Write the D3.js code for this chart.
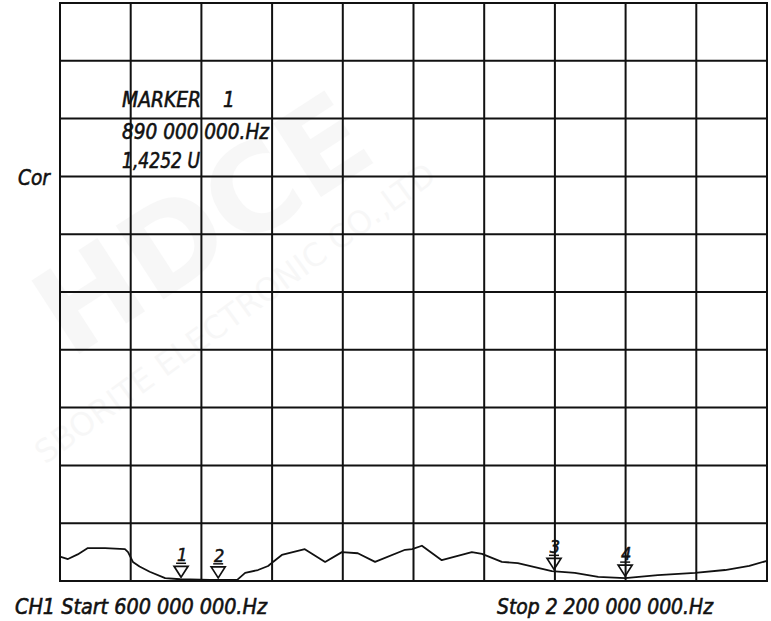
<!DOCTYPE html>
<html>
<head>
<meta charset="utf-8">
<script src="https://cdn.jsdelivr.net/npm/d3@7/dist/d3.min.js"></script>
<style>
  html, body { margin: 0; padding: 0; background: #fff; }
  svg { display: block; }
  .lbl { font-family: "DejaVu Sans Condensed", "DejaVu Sans", sans-serif; font-style: italic; fill: #111; stroke: #111; stroke-width: 0.55; }
</style>
</head>
<body>
<svg id="chart" width="771" height="621"></svg>
<script>
// ---- data ----
const freqStart = 600e6;
const freqStop = 2200e6;
const divisions = 10;            // grid divisions each way
// trace: frequency (MHz) and value (in grid divisions above bottom)
const traceFreqMHz = [600, 618, 640, 663, 702, 747, 754, 765, 780, 803, 838, 872, 940, 1001, 1019, 1048, 1071, 1082, 1102, 1154, 1200, 1238, 1274, 1313, 1381, 1397, 1419, 1464, 1532, 1555, 1600, 1636, 1713, 1765, 1818, 1879, 1953, 2037, 2105, 2160, 2200];
const traceValue   = [0.42, 0.38, 0.46, 0.57, 0.57, 0.55, 0.50, 0.33, 0.25, 0.16, 0.05, 0.03, 0.02, 0.02, 0.14, 0.19, 0.26, 0.33, 0.45, 0.55, 0.33, 0.50, 0.48, 0.33, 0.54, 0.55, 0.61, 0.36, 0.50, 0.47, 0.33, 0.31, 0.17, 0.14, 0.07, 0.05, 0.10, 0.14, 0.19, 0.26, 0.35];
const markerIds = ["1", "2", "3", "4"];
const markerFreqMHz = [874, 958, 1718, 1879];
const markerTitle = ["MARKER", "1"];
const markerFreqText = "890 000 000.Hz";
const markerValueText = "1,4252 U";
const yLabel = "Cor";
const startLabel = "CH1 Start  600 000 000.Hz";
const stopLabel = "Stop 2 200 000 000.Hz";

// ---- layout ----
const svg = d3.select("#chart");
const padL = 60, padR = 767, padT = 3, padB = 581;
const x = d3.scaleLinear().domain([freqStart / 1e6, freqStop / 1e6]).range([padL, padR]);
const y = d3.scaleLinear().domain([0, divisions]).range([padB, padT]);

// watermark (faint)
const wm = svg.append("g").attr("fill", "#000").attr("opacity", 0.028)
  .attr("font-family", "DejaVu Sans, sans-serif").attr("font-weight", "bold");
wm.append("text").attr("transform", "translate(70,360) rotate(-33)")
  .attr("font-size", 120).text("HDCE");
wm.append("text").attr("transform", "translate(45,465) rotate(-36)")
  .attr("font-size", 32).attr("font-weight", "normal").text("SBORITE ELECTRONIC CO.,LTD");

// grid
const gx = d3.range(0, divisions + 1).map(i => x.domain()[0] + i * (x.domain()[1] - x.domain()[0]) / divisions);
const gy = d3.range(0, divisions + 1);
const grid = svg.append("g").attr("stroke", "#111").attr("stroke-width", 2);
grid.selectAll("line.v").data(gx).join("line").attr("class", "v")
  .attr("x1", d => x(d)).attr("x2", d => x(d)).attr("y1", y(0)).attr("y2", y(divisions));
grid.selectAll("line.h").data(gy).join("line").attr("class", "h")
  .attr("y1", d => y(d)).attr("y2", d => y(d)).attr("x1", x.range()[0] - 1).attr("x2", x.range()[1] + 1);

// trace
const pts = traceFreqMHz.map((f, i) => [f, traceValue[i]]);
const line = d3.line().x(d => x(d[0])).y(d => y(d[1])).curve(d3.curveLinear);
svg.append("path").datum(pts).attr("d", line)
  .attr("fill", "none").attr("stroke", "#111").attr("stroke-width", 1.8).attr("stroke-linejoin", "round");

// markers
const interp = f => {
  const i = d3.bisectRight(traceFreqMHz, f);
  const i0 = Math.max(0, i - 1), i1 = Math.min(traceFreqMHz.length - 1, i);
  if (i0 === i1) return traceValue[i0];
  const t = (f - traceFreqMHz[i0]) / (traceFreqMHz[i1] - traceFreqMHz[i0]);
  return traceValue[i0] + t * (traceValue[i1] - traceValue[i0]);
};
const mk = svg.append("g");
markerFreqMHz.forEach((f, i) => {
  const mx = x(f), my = y(interp(f)) - 2;
  mk.append("path")
    .attr("d", `M${mx},${my} L${mx - 7},${my - 11} L${mx + 7},${my - 11} Z`)
    .attr("fill", "none").attr("stroke", "#111").attr("stroke-width", 1.7);
  mk.append("line").attr("x1", mx - 5).attr("x2", mx + 5).attr("y1", my - 14).attr("y2", my - 14)
    .attr("stroke", "#111").attr("stroke-width", 1.5);
  mk.append("text").attr("class", "lbl").attr("x", mx + 1).attr("y", my - 16)
    .attr("text-anchor", "middle").attr("font-size", 18).text(markerIds[i]);
});

// texts
const T = (s, tx, ty, len, fs) => svg.append("text").attr("class", "lbl")
  .attr("x", tx).attr("y", ty).attr("font-size", fs)
  .attr("textLength", len).attr("lengthAdjust", "spacingAndGlyphs").text(s);
T(markerTitle[0], 122, 107, 79, 20.5);
svg.append("text").attr("class", "lbl").attr("x", 223).attr("y", 107).attr("font-size", 20.5).text(markerTitle[1]);
T(markerFreqText, 122, 139, 147, 20.5);
T(markerValueText, 122, 168, 78, 20.5);
T(yLabel, 18, 185, 32, 22);
T(startLabel, 15, 614, 252, 20.5);
T(stopLabel, 497, 614, 216, 20.5);
</script>
</body>
</html>
